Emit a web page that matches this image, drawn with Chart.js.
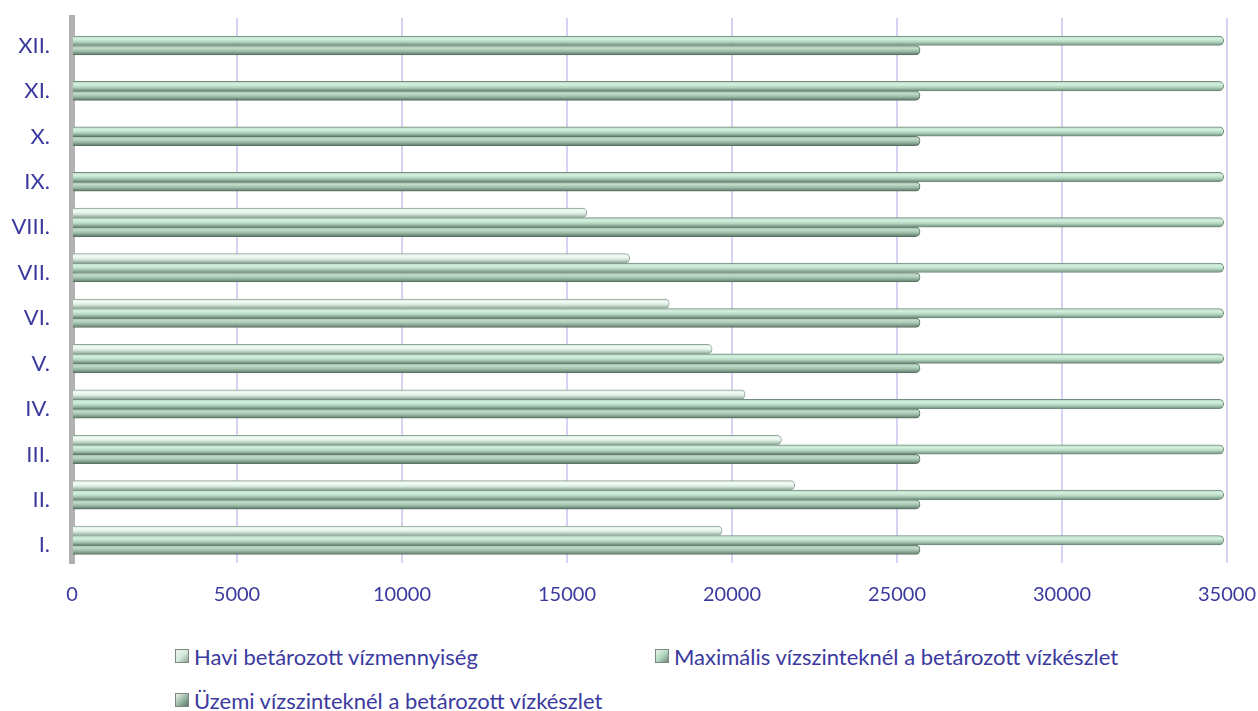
<!DOCTYPE html>
<html lang="hu">
<head>
<meta charset="utf-8">
<title>Betározott vízmennyiség</title>
<script src="https://cdn.jsdelivr.net/npm/chart.js@4.4.1/dist/chart.umd.min.js"></script>
<style>
    html, body { margin: 0; padding: 0; background: #ffffff; }
    #wrap { position: relative; width: 1258px; height: 711px; }
    #chartBox { position: absolute; left: 0; top: 0; width: 1258px; height: 622px; }
    #legend { position: absolute; left: 175px; top: 641px; width: 1000px;
              display: grid; grid-template-columns: 480px 480px; row-gap: 14px;
              font-family: Lato, 'Open Sans', sans-serif; font-size: 22px; color: #3b3a9e; }
    .item { display: flex; align-items: center; height: 30px; white-space: nowrap; }
    .box { width: 12px; height: 12px; margin-right: 5px; border: 1px solid #7a8a80; }
</style>
</head>
<body>
<div id="wrap">
    <div id="chartBox"><canvas id="chartViz"></canvas></div>
    <div id="legend"></div>
</div>
<script>
// Adatok (I. - XII. hónap)
const honapok = ['I.', 'II.', 'III.', 'IV.', 'V.', 'VI.', 'VII.', 'VIII.', 'IX.', 'X.', 'XI.', 'XII.'];
const haviBetarozott = [19700, 21900, 21500, 20400, 19400, 18100, 16900, 15600, null, null, null, null];
const maximalisKeszlet = [34900, 34900, 34900, 34900, 34900, 34900, 34900, 34900, 34900, 34900, 34900, 34900];
const uzemiKeszlet = [25700, 25700, 25700, 25700, 25700, 25700, 25700, 25700, 25700, 25700, 25700, 25700];
const xTicks = [0, 5000, 10000, 15000, 20000, 25000, 30000, 35000];

const sorozatNevek = [
    'Havi betározott vízmennyiség',
    'Maximális vízszinteknél a betározott vízkészlet',
    'Üzemi vízszinteknél a betározott vízkészlet'
];

// henger-hatás színei: [felső fény, közép, alsó árnyék]
const szinek = [
    ['#f4fbf7', '#d6ebde', '#8fa496'],
    ['#d6efe0', '#b4d9c2', '#718c7b'],
    ['#c0dbc9', '#9dbda9', '#5b7364']
];

const textColor = '#3b3a9e';
const fontFamily = "Lato, 'Open Sans', sans-serif";

// I. legyen alul -> fordított sorrend
const labels = honapok.slice().reverse();

// Plugin: függőleges színátmenet minden sávra (saját options objektum sávonként)
const hengerPlugin = {
    id: 'henger',
    beforeDatasetsDraw(chart) {
        const ctx = chart.ctx;
        chart.data.datasets.forEach((ds, di) => {
            const meta = chart.getDatasetMeta(di);
            meta.data.forEach(bar => {
                if (!bar || isNaN(bar.y) || !bar.height) return;
                const h = bar.height;
                const g = ctx.createLinearGradient(0, bar.y - h / 2, 0, bar.y + h / 2);
                g.addColorStop(0, szinek[di][1]);
                g.addColorStop(0.3, szinek[di][0]);
                g.addColorStop(0.6, szinek[di][1]);
                g.addColorStop(1, szinek[di][2]);
                bar.options = Object.assign({}, bar.options, { backgroundColor: g });
            });
        });
    }
};

const ctxViz = document.getElementById('chartViz');
const chart = new Chart(ctxViz, {
    type: 'bar',
    data: {
        labels: labels,
        datasets: [
            { label: sorozatNevek[0], data: haviBetarozott.slice().reverse() },
            { label: sorozatNevek[1], data: maximalisKeszlet.slice().reverse() },
            { label: sorozatNevek[2], data: uzemiKeszlet.slice().reverse() }
        ].map((d, i) => Object.assign(d, {
            backgroundColor: szinek[i][1],
            borderColor: szinek[i][2],
            borderWidth: 1,
            borderRadius: 5,
            borderSkipped: 'start',
            barThickness: 9.5
        }))
    },
    options: {
        indexAxis: 'y',
        responsive: true,
        maintainAspectRatio: false,
        animation: false,
        layout: { padding: { top: 18, left: 0, right: 0, bottom: 0 } },
        scales: {
            x: {
                min: 0,
                max: 35000,
                afterBuildTicks: (scale) => { scale.ticks = xTicks.map(v => ({ value: v })); },
                ticks: {
                    color: textColor,
                    font: { family: fontFamily, size: 20 },
                    padding: 20,
                    maxRotation: 0,
                    callback: (v) => String(v)
                },
                grid: { color: '#d6d2f3', lineWidth: 2, drawTicks: false },
                border: { display: false },
                afterFit: (scale) => {
                    scale.height = 59;
                    scale.paddingLeft = 0;
                    scale.paddingRight = 31;
                }
            },
            y: {
                ticks: {
                    color: textColor,
                    font: { family: fontFamily, size: 22 },
                    padding: 22,
                    labelOffset: 5
                },
                grid: { display: false, drawTicks: false },
                border: { display: true, color: '#b2b2b2', width: 6 },
                afterFit: (scale) => {
                    scale.width = 72;
                    scale.paddingTop = 0;
                    scale.paddingBottom = 0;
                }
            }
        },
        plugins: {
            legend: { display: false },
            tooltip: { enabled: false }
        }
    },
    plugins: [hengerPlugin]
});

// HTML jelmagyarázat
const legendEl = document.getElementById('legend');
chart.data.datasets.forEach((ds, i) => {
    const item = document.createElement('div');
    item.className = 'item';
    const box = document.createElement('span');
    box.className = 'box';
    box.style.background = `linear-gradient(135deg, #eef2ee, ${szinek[i][1]} 50%, ${szinek[i][2]})`;
    const txt = document.createElement('span');
    txt.textContent = ds.label;
    item.appendChild(box);
    item.appendChild(txt);
    legendEl.appendChild(item);
});
</script>
</body>
</html>
